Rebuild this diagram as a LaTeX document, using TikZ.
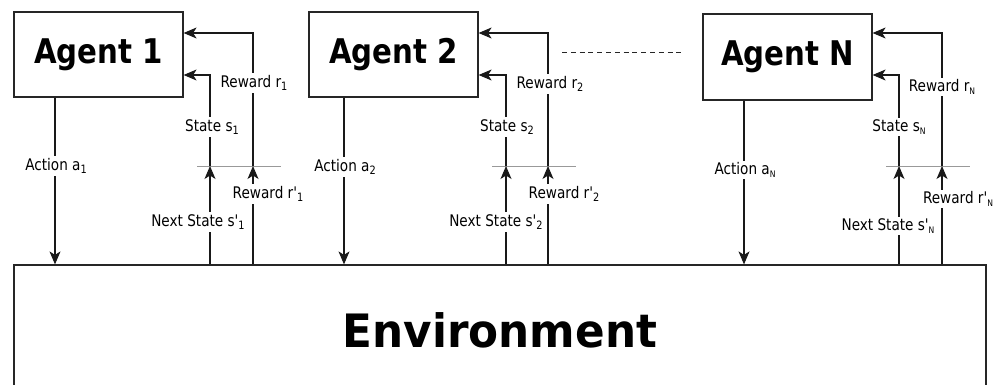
\documentclass[tikz,border=0pt]{standalone}
\usepackage{fontspec}
\usetikzlibrary{arrows.meta}
\newfontfamily\lblfont{DejaVu Sans}[FakeStretch=0.85]
\newfontfamily\agentfont{DejaVu Sans}[FakeStretch=0.86]
\newfontfamily\envfont{DejaVu Sans}[FakeStretch=0.95]
\newcommand\lsub[1]{\raisebox{-3.2pt}{\fontsize{11.5}{12}\selectfont #1}}
\newcommand\nsub{\raisebox{-2.6pt}{\fontsize{9}{10}\selectfont N}}
\begin{document}
\begin{tikzpicture}[x=1pt,y=-1pt,
  line/.style={draw=black!90, line width=1.1pt},
  arr/.style={line, -{Stealth[length=13pt,width=11pt,inset=3.5pt]}},
  box/.style={draw=black!85, line width=1.2pt, rectangle, inner sep=0pt,
    minimum width=169pt, minimum height=85pt,
    font=\agentfont\bfseries\fontsize{34}{40}\selectfont},
  envbox/.style={draw=black!85, line width=1.2pt, rectangle, inner sep=0pt,
    minimum width=972pt, minimum height=130pt,
    font=\envfont\bfseries\fontsize{46}{54}\selectfont},
  lbl/.style={fill=white, inner sep=2pt, font=\lblfont\fontsize{16}{19}\selectfont},
  sep/.style={draw=black!40, line width=1pt},
  dots/.style={draw=black!85, line width=1pt, dash pattern=on 5pt off 3.8pt}]
\clip (0,0) rectangle (1000,385);
% boxes
\node[box] (a1) at (98.5,54.5) {Agent 1};
\node[box] (a2) at (393.5,54.5) {Agent 2};
\node[box, minimum height=86pt] (aN) at (787.5,57) {Agent N};
\node[envbox] (env) at (500,330) {Environment};
% dashed continuation
\coordinate (dl) at (562,53);
\coordinate (dr) at (685,53);
\draw[dots] (dl) -- (dr);
% ---------- Agent 1 ----------
\coordinate (ax1) at (55,0);
\coordinate (s1) at (210,166); \coordinate (r1) at (253,166);
\coordinate (ts1) at (210,75); \coordinate (tr1) at (253,33);
\coordinate (g1l) at (197,166); \coordinate (g1r) at (281,166);
\draw[sep] (g1l) -- (g1r);
\draw[arr] (a1.south -| ax1) -- (env.north -| ax1);
\draw[arr] (env.north -| s1) -- (s1);
\draw[arr] (s1) -- (ts1) -- (ts1 -| a1.east);
\draw[arr] (env.north -| r1) -- (r1);
\draw[arr] (r1) -- (tr1) -- (tr1 -| a1.east);
\node[lbl] (la1) at (56,166) {Action a\lsub{1}};
\node[lbl] (ls1) at (212,127) {State s\lsub{1}};
\node[lbl] (lr1) at (254,83) {Reward r\lsub{1}};
\node[lbl] (lrp1) at (268,194) {Reward r'\lsub{1}};
\node[lbl] (lns1) at (198,222) {Next State s'\lsub{1}};
% ---------- Agent 2 ----------
\coordinate (ax2) at (344,0);
\coordinate (s2) at (506,166); \coordinate (r2) at (548,166);
\coordinate (ts2) at (506,75); \coordinate (tr2) at (548,33);
\coordinate (g2l) at (492,166); \coordinate (g2r) at (576,166);
\draw[sep] (g2l) -- (g2r);
\draw[arr] (a2.south -| ax2) -- (env.north -| ax2);
\draw[arr] (env.north -| s2) -- (s2);
\draw[arr] (s2) -- (ts2) -- (ts2 -| a2.east);
\draw[arr] (env.north -| r2) -- (r2);
\draw[arr] (r2) -- (tr2) -- (tr2 -| a2.east);
\node[lbl] (la2) at (345,167) {Action a\lsub{2}};
\node[lbl] (ls2) at (507,127) {State s\lsub{2}};
\node[lbl] (lr2) at (550,84) {Reward r\lsub{2}};
\node[lbl] (lrp2) at (564,194) {Reward r'\lsub{2}};
\node[lbl] (lns2) at (496,222) {Next State s'\lsub{2}};
% ---------- Agent N ----------
\coordinate (axN) at (744,0);
\coordinate (sN) at (899,166); \coordinate (rN) at (942,166);
\coordinate (tsN) at (899,75); \coordinate (trN) at (942,33);
\coordinate (gNl) at (886,166); \coordinate (gNr) at (970,166);
\draw[sep] (gNl) -- (gNr);
\draw[arr] (aN.south -| axN) -- (env.north -| axN);
\draw[arr] (env.north -| sN) -- (sN);
\draw[arr] (sN) -- (tsN) -- (tsN -| aN.east);
\draw[arr] (env.north -| rN) -- (rN);
\draw[arr] (rN) -- (trN) -- (trN -| aN.east);
\node[lbl] (laN) at (745,170) {Action a\nsub};
\node[lbl] (lsN) at (899,127) {State s\nsub};
\node[lbl] (lrN) at (942,87) {Reward r\nsub};
\node[lbl] (lrpN) at (958,199) {Reward r'\nsub};
\node[lbl] (lnsN) at (888,226) {Next State s'\nsub};
\end{tikzpicture}
\end{document}
